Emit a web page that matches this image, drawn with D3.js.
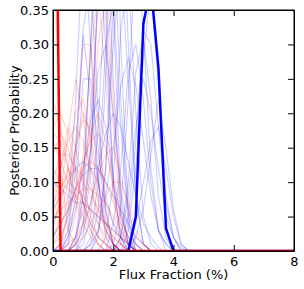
<!DOCTYPE html>
<html lang="en">
  <head>
    <meta charset="utf-8">
    <script src="https://d3js.org/d3.v7.min.js"></script>
    <style>
      body { margin: 0; background: #fff; }
      text { font-family: "DejaVu Sans", sans-serif; }
    </style>
  </head>
  <body>
    <div id="chart">
      <svg width="304" height="289"></svg>
    </div>
    <script type="text/javascript">
      // Data
      var fluxGrid = [0, 0.25, 0.5, 0.75, 1, 1.25, 1.5, 1.75, 2, 2.25, 2.5, 2.75, 3, 3.25, 3.5, 3.75, 4, 4.25, 4.5, 8];
      var xTicks = [0, 2, 4, 6, 8];
      var yTicks = [0, 0.05, 0.10, 0.15, 0.20, 0.25, 0.30, 0.35];

      var boldBlue = [0, 0, 0, 0, 0, 0, 0, 0, 0, 0, 0, 0.05, 0.33, 0.385, 0.266, 0.033, 0, 0, 0, 0];
      var boldRed = [0.97, 0, 0, 0, 0, 0, 0, 0, 0, 0, 0, 0, 0, 0, 0, 0, 0, 0, 0, 0];

      // faint blue runs
      var blueRuns = [
        [0, 0, 0.02, 0.12, 0.315, 0.22, 0.10, 0.03, 0.01, 0],
        [0, 0, 0.01, 0.08, 0.25, 0.25, 0.15, 0.05, 0.01, 0],
        [0, 0, 0, 0.02, 0.10, 0.30, 0.45, 0.30, 0.10, 0.02, 0],
        [0, 0, 0, 0, 0.04, 0.15, 0.38, 0.50, 0.25, 0.06, 0.01, 0],
        [0, 0, 0, 0, 0.01, 0.05, 0.18, 0.40, 0.48, 0.22, 0.05, 0],
        [0, 0, 0, 0, 0, 0, 0.03, 0.12, 0.30, 0.42, 0.25, 0.08, 0.01, 0],
        [0, 0, 0, 0, 0, 0, 0, 0.02, 0.10, 0.32, 0.40, 0.20, 0.05, 0.01, 0],
        [0, 0, 0, 0, 0, 0, 0, 0, 0.04, 0.12, 0.26, 0.30, 0.22, 0.10, 0.03, 0.01, 0],
        [0, 0, 0, 0, 0, 0, 0, 0, 0, 0, 0.03, 0.12, 0.28, 0.38, 0.24, 0.08, 0.02, 0],
        [0, 0, 0, 0, 0, 0, 0, 0, 0, 0.02, 0.08, 0.18, 0.25, 0.20, 0.12, 0.05, 0.02, 0.005, 0],
        [0.02, 0.04, 0.06, 0.09, 0.11, 0.12, 0.12, 0.10, 0.08, 0.06, 0.04, 0.02, 0.01, 0],
        [0.10, 0.09, 0.08, 0.07, 0.07, 0.06, 0.05, 0.04, 0.03, 0.02, 0.01, 0],
        [0, 0, 0.03, 0.15, 0.32, 0.40, 0.20, 0.06, 0.01, 0],
        [0, 0, 0, 0, 0, 0.02, 0.10, 0.30, 0.36, 0.18, 0.04, 0],
        [0, 0, 0, 0, 0, 0.01, 0.03, 0.08, 0.15, 0.24, 0.28, 0.24, 0.16, 0.08, 0.03, 0.01, 0],
        [0, 0, 0, 0.02, 0.06, 0.15, 0.26, 0.30, 0.20, 0.09, 0.03, 0.01, 0],
        [0, 0, 0, 0, 0, 0, 0.02, 0.12, 0.35, 0.55, 0.30, 0.08, 0.01, 0],
        [0, 0, 0.02, 0.06, 0.12, 0.19, 0.22, 0.18, 0.11, 0.05, 0.02, 0],
        [0, 0, 0, 0, 0, 0, 0, 0, 0, 0, 0.01, 0.04, 0.10, 0.16, 0.18, 0.12, 0.05, 0.01, 0],
        [0, 0, 0, 0.01, 0.03, 0.07, 0.12, 0.17, 0.20, 0.18, 0.13, 0.08, 0.04, 0.02, 0.005, 0],
        [0.06, 0.08, 0.10, 0.12, 0.13, 0.12, 0.10, 0.07, 0.04, 0.02, 0.01, 0],
        [0, 0.01, 0.06, 0.22, 0.45, 0.30, 0.10, 0.02, 0],
        [0, 0, 0, 0, 0, 0, 0, 0, 0.01, 0.06, 0.22, 0.45, 0.32, 0.12, 0.03, 0],
        [0, 0, 0, 0, 0, 0, 0, 0, 0, 0.01, 0.05, 0.16, 0.32, 0.30, 0.18, 0.07, 0.02, 0],
        [0, 0, 0, 0, 0.02, 0.12, 0.40, 0.60, 0.35, 0.08, 0.01, 0],
        [0, 0, 0, 0, 0, 0, 0, 0, 0, 0.02, 0.10, 0.26, 0.31, 0.22, 0.08, 0.02, 0],
        [0, 0, 0, 0, 0, 0, 0, 0, 0, 0, 0, 0.02, 0.06, 0.14, 0.22, 0.15, 0.06, 0.01, 0],
        [0, 0, 0, 0.01, 0.08, 0.30, 0.55, 0.35, 0.10, 0.02, 0],
        [0, 0, 0, 0, 0, 0.01, 0.06, 0.25, 0.70, 0.30, 0.06, 0.01, 0]
      ];

      // faint red runs
      var redRuns = [
        [0.50, 0.12, 0.03, 0.01, 0],
        [0.17, 0.16, 0.12, 0.08, 0.05, 0.03, 0.01, 0],
        [0.14, 0.17, 0.15, 0.11, 0.07, 0.04, 0.02, 0.01, 0],
        [0, 0.01, 0.05, 0.15, 0.30, 0.30, 0.18, 0.06, 0.01, 0],
        [0, 0, 0, 0.02, 0.08, 0.20, 0.36, 0.42, 0.22, 0.06, 0.01, 0],
        [0, 0, 0.01, 0.05, 0.14, 0.28, 0.38, 0.25, 0.08, 0.01, 0],
        [0.08, 0.12, 0.16, 0.18, 0.16, 0.12, 0.07, 0.04, 0.02, 0.01, 0],
        [0.02, 0.05, 0.10, 0.15, 0.19, 0.18, 0.14, 0.08, 0.04, 0.01, 0],
        [0.12, 0.10, 0.09, 0.08, 0.07, 0.06, 0.05, 0.04, 0.03, 0.02, 0.01, 0],
        [0.04, 0.07, 0.12, 0.20, 0.22, 0.16, 0.08, 0.03, 0.01, 0],
        [0.06, 0.12, 0.18, 0.15, 0.10, 0.05, 0.02, 0.01, 0],
        [0.01, 0.02, 0.05, 0.09, 0.13, 0.16, 0.17, 0.15, 0.10, 0.05, 0.02, 0],
        [0, 0, 0.01, 0.02, 0.04, 0.07, 0.11, 0.14, 0.15, 0.11, 0.06, 0.02, 0.01, 0],
        [0.22, 0.18, 0.12, 0.07, 0.04, 0.02, 0.01, 0],
        [0.03, 0.08, 0.17, 0.25, 0.20, 0.10, 0.04, 0.01, 0],
        [0.10, 0.14, 0.14, 0.12, 0.10, 0.08, 0.06, 0.04, 0.02, 0.01, 0],
        [0.02, 0.04, 0.06, 0.09, 0.12, 0.13, 0.12, 0.10, 0.07, 0.04, 0.02, 0.01, 0],
        [0.07, 0.09, 0.11, 0.12, 0.11, 0.09, 0.06, 0.03, 0.01, 0],
        [0, 0, 0, 0.01, 0.02, 0.04, 0.06, 0.08, 0.10, 0.10, 0.07, 0.03, 0.01, 0],
        [0.16, 0.13, 0.10, 0.09, 0.08, 0.06, 0.04, 0.02, 0.01, 0],
        [0.01, 0.03, 0.08, 0.15, 0.20, 0.17, 0.10, 0.04, 0.01, 0],
        [0.05, 0.06, 0.07, 0.08, 0.09, 0.09, 0.08, 0.07, 0.05, 0.03, 0.01, 0],
        [0, 0, 0, 0.01, 0.04, 0.14, 0.30, 0.37, 0.18, 0.04, 0.01, 0],
        [0.18, 0.20, 0.17, 0.12, 0.07, 0.03, 0.01, 0],
        [0.05, 0.09, 0.12, 0.10, 0.07, 0.04, 0.02, 0.01, 0],
        [0, 0.01, 0.03, 0.07, 0.12, 0.17, 0.20, 0.16, 0.09, 0.03, 0.01, 0]
      ];

      // SVG and dimensions
      var svg = d3.select("svg"),
        width = +svg.attr("width"),
        height = +svg.attr("height");
      var margin = {top: 10, right: 10, bottom: 38, left: 53};
      var innerWidth = width - margin.left - margin.right;
      var innerHeight = height - margin.top - margin.bottom;

      var xScale = d3.scaleLinear().domain([0, 8]).range([0, innerWidth]);
      var yScale = d3.scaleLinear().domain([0, 0.35]).range([innerHeight, 0]);

      var g = svg.append("g")
        .attr("transform", `translate(${margin.left},${margin.top})`);

      g.append("clipPath").attr("id", "clip")
        .append("rect").attr("width", innerWidth).attr("height", innerHeight);

      var line = d3.line()
        .x(function(d, i) { return xScale(fluxGrid[i]); })
        .y(function(d) { return yScale(d); });

      var plot = g.append("g").attr("clip-path", "url(#clip)");

      plot.selectAll(".blue-run").data(blueRuns).enter().append("path")
        .attr("class", "blue-run")
        .attr("d", line)
        .attr("fill", "none")
        .attr("stroke", "#0000ff")
        .attr("stroke-opacity", 0.2)
        .attr("stroke-width", 1.1);

      plot.selectAll(".red-run").data(redRuns).enter().append("path")
        .attr("class", "red-run")
        .attr("d", line)
        .attr("fill", "none")
        .attr("stroke", "#ff0000")
        .attr("stroke-opacity", 0.18)
        .attr("stroke-width", 1.1);

      plot.append("path").datum(boldBlue)
        .attr("d", line)
        .attr("fill", "none")
        .attr("stroke", "#0000ff")
        .attr("stroke-width", 2.5);

      plot.append("path").datum(boldRed)
        .attr("d", line)
        .attr("fill", "none")
        .attr("stroke", "#ff0000")
        .attr("stroke-width", 2.5);

      // Axes (ticks pointing inward, mirrored on all sides)
      var tickLen = 6;
      var xAxisB = d3.axisBottom(xScale).tickValues(xTicks).tickSizeInner(-tickLen).tickSizeOuter(0).tickPadding(6).tickFormat(d3.format("d"));
      var xAxisT = d3.axisTop(xScale).tickValues(xTicks).tickSizeInner(-tickLen).tickSizeOuter(0).tickFormat("");
      var yAxisL = d3.axisLeft(yScale).tickValues(yTicks).tickSizeInner(-tickLen).tickSizeOuter(0).tickPadding(4).tickFormat(d3.format(".2f"));
      var yAxisR = d3.axisRight(yScale).tickValues(yTicks).tickSizeInner(-tickLen).tickSizeOuter(0).tickFormat("");

      g.append("g").attr("transform", `translate(0,${innerHeight})`).call(xAxisB);
      g.append("g").call(xAxisT);
      g.append("g").call(yAxisL);
      g.append("g").attr("transform", `translate(${innerWidth},0)`).call(yAxisR);

      g.selectAll(".tick text")
        .attr("font-size", 13)
        .attr("fill", "#000")
        .style("font-family", "DejaVu Sans, sans-serif");
      g.selectAll(".domain").attr("stroke", "#000");

      // Frame
      g.append("rect")
        .attr("width", innerWidth)
        .attr("height", innerHeight)
        .attr("fill", "none")
        .attr("stroke", "#000")
        .attr("stroke-width", 1);

      svg.append("text")
        .attr("text-anchor", "middle")
        .attr("x", margin.left + innerWidth / 2)
        .attr("y", height - 10)
        .attr("font-size", 13)
        .text("Flux Fraction (%)");

      svg.append("text")
        .attr("text-anchor", "middle")
        .attr("transform", `translate(19,${margin.top + innerHeight / 2}) rotate(-90)`)
        .attr("font-size", 13)
        .text("Posterior Probability");
    </script>
  </body>
</html>
